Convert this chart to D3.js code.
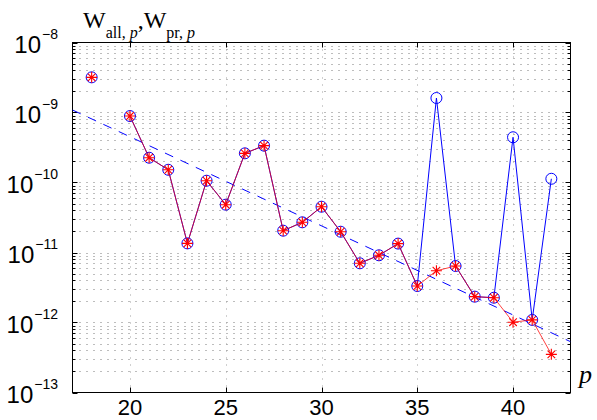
<!DOCTYPE html>
<html>
<head>
<meta charset="utf-8">
<script src="https://cdn.jsdelivr.net/npm/d3@7"></script>
<style>
  html, body { margin: 0; padding: 0; background: #fff; }
  svg { display: block; }
</style>
</head>
<body>
<svg id="chart" width="597" height="420"></svg>
<script>
// Order p (p = 19 has no value)
const orders = [18, 19, 20, 21, 22, 23, 24, 25, 26, 27, 28, 29, 30, 31, 32, 33, 34, 35, 36, 37, 38, 39, 40, 41, 42];
// W_all,p (blue circles)
const wAll = [3.18e-9, null, 8.9e-10, 2.26e-10, 1.52e-10, 1.35e-11, 1.06e-10, 4.82e-11, 2.61e-10, 3.36e-10,
  2.05e-11, 2.70e-11, 4.51e-11, 1.98e-11, 7.01e-12, 9.12e-12, 1.34e-11, 3.32e-12, 1.61e-9, 6.41e-12,
  2.34e-12, 2.26e-12, 4.43e-10, 1.09e-12, 1.13e-10];
// W_pr,p (red asterisks)
const wPr = [3.18e-9, null, 8.9e-10, 2.26e-10, 1.52e-10, 1.35e-11, 1.06e-10, 4.82e-11, 2.61e-10, 3.36e-10,
  2.05e-11, 2.70e-11, 4.51e-11, 1.98e-11, 7.01e-12, 9.12e-12, 1.34e-11, 3.32e-12, 5.49e-12, 6.41e-12,
  2.34e-12, 2.26e-12, 1.01e-12, 1.09e-12, 3.51e-13];
// Exponential trend line, given by its two ends
const trendP = [17, 43];
const trendW = [1.086e-9, 5.32e-13];
// Axis ticks
const xTicks = [20, 25, 30, 35, 40];
const yExponents = [-8, -9, -10, -11, -12, -13];

const svg = d3.select("#chart");
const plotLeft = 72.5, plotRight = 570.5, plotTop = 42.5, plotBottom = 392.5;

const x = d3.scaleLinear().domain([17, 43]).range([plotLeft, plotRight]);
const y = d3.scaleLog().domain([1e-13, 1e-8]).range([plotBottom, plotTop]);

// minor + major log positions
const yAll = [];
for (let e = -13; e < -8; e++) for (let m = 1; m <= 9; m++) yAll.push(m * Math.pow(10, e));
yAll.push(1e-8);

// grid
const grid = svg.append("g");
grid.selectAll("line.h").data(yAll.filter(v => v > 1e-13 && v < 1e-8)).join("line")
  .attr("x1", plotLeft).attr("x2", plotRight)
  .attr("y1", d => Math.round(y(d)) + 0.5).attr("y2", d => Math.round(y(d)) + 0.5)
  .attr("stroke", "#7a7a7a").attr("stroke-width", 1).attr("stroke-dasharray", "1,6");
grid.selectAll("line.v").data(xTicks).join("line")
  .attr("x1", d => Math.round(x(d)) + 0.5).attr("x2", d => Math.round(x(d)) + 0.5)
  .attr("y1", plotTop).attr("y2", plotBottom)
  .attr("stroke", "#a0a0a0").attr("stroke-width", 1).attr("stroke-dasharray", "1,6");

// axes box with inward ticks
const axes = svg.append("g");
const isMajor = v => Math.abs(Math.log10(v) - Math.round(Math.log10(v))) < 1e-9;
axes.selectAll("line.yl").data(yAll).join("line")
  .attr("x1", plotLeft).attr("x2", d => plotLeft + (isMajor(d) ? 5 : 3))
  .attr("y1", d => Math.round(y(d)) + 0.5).attr("y2", d => Math.round(y(d)) + 0.5)
  .attr("stroke", "#000");
axes.selectAll("line.yr").data(yAll).join("line")
  .attr("x1", plotRight).attr("x2", d => plotRight - (isMajor(d) ? 5 : 3))
  .attr("y1", d => Math.round(y(d)) + 0.5).attr("y2", d => Math.round(y(d)) + 0.5)
  .attr("stroke", "#000");
axes.selectAll("line.xb").data(xTicks).join("line")
  .attr("x1", d => Math.round(x(d)) + 0.5).attr("x2", d => Math.round(x(d)) + 0.5)
  .attr("y1", plotBottom).attr("y2", plotBottom - 5).attr("stroke", "#000");
axes.selectAll("line.xt").data(xTicks).join("line")
  .attr("x1", d => Math.round(x(d)) + 0.5).attr("x2", d => Math.round(x(d)) + 0.5)
  .attr("y1", plotTop).attr("y2", plotTop + 5).attr("stroke", "#000");
axes.append("rect").attr("x", plotLeft).attr("y", plotTop)
  .attr("width", plotRight - plotLeft).attr("height", plotBottom - plotTop)
  .attr("fill", "none").attr("stroke", "#000").attr("stroke-width", 1);

// tick labels
const tickFont = "'Liberation Sans', Arial, sans-serif";
svg.append("g").selectAll("text").data(xTicks).join("text")
  .attr("x", d => x(d)).attr("y", 415)
  .attr("text-anchor", "middle")
  .attr("font-family", tickFont).attr("font-size", 22)
  .text(d => d);

const yLab = svg.append("g").selectAll("text").data(yExponents).join("text")
  .attr("x", 58).attr("y", d => y(Math.pow(10, d)) + 10)
  .attr("text-anchor", "end")
  .attr("font-family", tickFont).attr("font-size", 24);
yLab.append("tspan").text("10");
yLab.append("tspan").attr("dy", -14).attr("dx", 1).attr("font-size", 14).text(d => "\u2212" + Math.abs(d));

// axis titles
const serif = "'Liberation Serif', 'Times New Roman', serif";
const title = svg.append("text").attr("x", 83).attr("y", 28)
  .attr("font-family", serif).attr("font-size", 24);
title.append("tspan").text("W");
title.append("tspan").attr("font-size", 16).attr("dy", 10).text("all, ");
title.append("tspan").attr("font-size", 16).attr("font-style", "italic").text("p");
title.append("tspan").attr("dy", -10).text(",W");
title.append("tspan").attr("font-size", 16).attr("dy", 10).text("pr, ");
title.append("tspan").attr("font-size", 16).attr("font-style", "italic").text("p");

svg.append("text").attr("x", 579).attr("y", 383)
  .attr("font-family", serif).attr("font-size", 26).attr("font-style", "italic")
  .text("p");

// plot area clip
svg.append("clipPath").attr("id", "clip").append("rect")
  .attr("x", plotLeft).attr("y", plotTop).attr("width", plotRight - plotLeft).attr("height", plotBottom - plotTop);
const plot = svg.append("g").attr("clip-path", "url(#clip)");

// trend line
const trend = trendP.map((p, i) => ({ p, w: trendW[i] }));
plot.append("path").datum(trend)
  .attr("d", d3.line().x(d => x(d.p)).y(d => y(d.w)))
  .attr("fill", "none").attr("stroke", "#0000ff").attr("stroke-width", 1)
  .attr("stroke-dasharray", "9,8");

const allPts = orders.map((p, i) => ({ p, w: wAll[i] }));
const prPts = orders.map((p, i) => ({ p, w: wPr[i] }));
const line = d3.line().defined(d => d.w != null).x(d => x(d.p)).y(d => y(d.w));

// W_all,p
plot.append("path").datum(allPts).attr("d", line)
  .attr("fill", "none").attr("stroke", "#0000ff").attr("stroke-width", 1);
plot.selectAll("circle.all").data(allPts.filter(d => d.w != null)).join("circle")
  .attr("cx", d => x(d.p)).attr("cy", d => y(d.w)).attr("r", 5.5)
  .attr("fill", "none").attr("stroke", "#0000ff").attr("stroke-width", 1);

// W_pr,p
plot.append("path").datum(prPts).attr("d", line)
  .attr("fill", "none").attr("stroke", "#ff0000").attr("stroke-opacity", 0.75).attr("stroke-width", 1);
const star = "M-5.5,0H5.5M0,-5.5V5.5M-3.8,-3.8L3.8,3.8M-3.8,3.8L3.8,-3.8";
plot.selectAll("path.pr").data(prPts.filter(d => d.w != null)).join("path")
  .attr("transform", d => `translate(${x(d.p)},${y(d.w)})`)
  .attr("d", star)
  .attr("fill", "none").attr("stroke", "#ff0000").attr("stroke-width", 1.1);
</script>
</body>
</html>
